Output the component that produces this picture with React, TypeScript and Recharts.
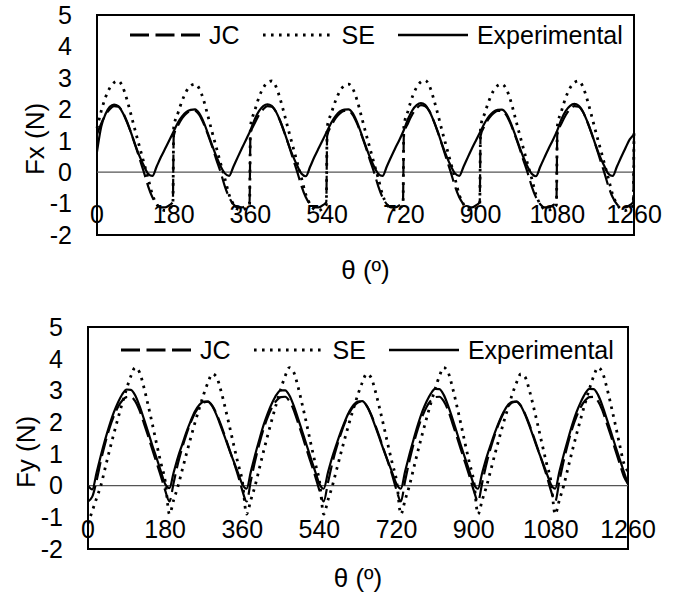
import React from 'react';
import { LineChart, Line, XAxis, YAxis, ReferenceLine, ReferenceArea, Legend } from 'recharts';

const FONT = '"Liberation Sans", Arial, Helvetica, sans-serif';

const thetaTicks = [0, 180, 360, 540, 720, 900, 1080, 1260];
const forceTicks = [-2, -1, 0, 1, 2, 3, 4, 5];
const seriesNames = ['JC', 'SE', 'Experimental'];

// ---------- Fx (top chart) ----------
const fxTheta = [
  0, 10, 20, 30, 40, 50, 60, 70, 80, 90, 100, 110, 120, 130, 140, 150, 160, 170, 178,
  180, 190, 200, 210, 220, 230, 240, 250, 260, 270, 280, 290, 300, 310, 320, 330, 340, 350, 358,
  360, 370, 380, 390, 400, 410, 420, 430, 440, 450, 460, 470, 480, 490, 500, 510, 520, 530, 538,
  540, 550, 560, 570, 580, 590, 600, 610, 620, 630, 640, 650, 660, 670, 680, 690, 700, 710, 718,
  720, 730, 740, 750, 760, 770, 780, 790, 800, 810, 820, 830, 840, 850, 860, 870, 880, 890, 898,
  900, 910, 920, 930, 940, 950, 960, 970, 980, 990, 1000, 1010, 1020, 1030, 1040, 1050, 1060, 1070, 1078,
  1080, 1090, 1100, 1110, 1120, 1130, 1140, 1150, 1160, 1170, 1180, 1190, 1200, 1210, 1220, 1230, 1240, 1250, 1258,
  1260,
];
const fxJC = [
  1.2, 1.55, 1.82, 2.0, 2.1, 2.08, 1.92, 1.62, 1.25, 0.85, 0.42, 0.0, -0.45, -0.8, -1.02, -1.12, -1.12, -1.05, -0.95,
  1.15, 1.48, 1.72, 1.87, 1.95, 1.95, 1.82, 1.55, 1.2, 0.82, 0.4, 0.0, -0.45, -0.8, -1.02, -1.12, -1.12, -1.05, -0.95,
  1.2, 1.55, 1.82, 2.0, 2.1, 2.08, 1.92, 1.62, 1.25, 0.85, 0.42, 0.0, -0.45, -0.8, -1.02, -1.12, -1.12, -1.05, -0.95,
  1.15, 1.48, 1.72, 1.87, 1.95, 1.95, 1.82, 1.55, 1.2, 0.82, 0.4, 0.0, -0.45, -0.8, -1.02, -1.12, -1.12, -1.05, -0.95,
  1.2, 1.56, 1.84, 2.03, 2.13, 2.1, 1.94, 1.63, 1.26, 0.85, 0.42, 0.0, -0.45, -0.8, -1.02, -1.12, -1.12, -1.05, -0.95,
  1.15, 1.48, 1.72, 1.87, 1.95, 1.95, 1.82, 1.55, 1.2, 0.82, 0.4, 0.0, -0.45, -0.8, -1.02, -1.12, -1.12, -1.05, -0.95,
  1.2, 1.55, 1.82, 2.0, 2.1, 2.08, 1.92, 1.62, 1.25, 0.85, 0.42, 0.0, -0.45, -0.8, -1.02, -1.12, -1.12, -1.05, -0.95,
  1.2,
];
const fxSE = [
  1.4, 1.95, 2.38, 2.68, 2.85, 2.9, 2.72, 2.32, 1.82, 1.3, 0.8, 0.3, -0.2, -0.72, -1.02, -1.18, -1.22, -1.15, -1.05,
  1.42, 1.88, 2.28, 2.58, 2.75, 2.8, 2.66, 2.3, 1.8, 1.28, 0.78, 0.28, -0.2, -0.72, -1.02, -1.18, -1.2, -1.14, -1.04,
  1.45, 1.95, 2.38, 2.68, 2.85, 2.9, 2.72, 2.32, 1.82, 1.3, 0.8, 0.3, -0.2, -0.72, -1.02, -1.18, -1.22, -1.15, -1.05,
  1.42, 1.88, 2.28, 2.58, 2.75, 2.8, 2.66, 2.3, 1.8, 1.28, 0.78, 0.28, -0.2, -0.72, -1.02, -1.18, -1.2, -1.14, -1.04,
  1.45, 1.96, 2.4, 2.7, 2.87, 2.92, 2.74, 2.33, 1.83, 1.3, 0.8, 0.3, -0.2, -0.72, -1.02, -1.18, -1.22, -1.15, -1.05,
  1.42, 1.88, 2.28, 2.58, 2.75, 2.8, 2.66, 2.3, 1.8, 1.28, 0.78, 0.28, -0.2, -0.72, -1.02, -1.18, -1.2, -1.14, -1.04,
  1.45, 1.95, 2.38, 2.68, 2.85, 2.9, 2.72, 2.32, 1.82, 1.3, 0.8, 0.3, -0.2, -0.72, -1.02, -1.18, -1.22, -1.15, -1.05,
  1.4,
];
const fxExp = [
  0.65, 1.45, 1.85, 2.08, 2.15, 2.1, 1.9, 1.6, 1.25, 0.85, 0.5, 0.2, -0.05, -0.12, 0.18, 0.48, 0.75, 1.02, null,
  1.3, 1.58, 1.78, 1.92, 1.98, 2.0, 1.87, 1.6, 1.24, 0.86, 0.5, 0.19, -0.04, -0.12, 0.17, 0.47, 0.76, 1.04, null,
  1.33, 1.68, 1.94, 2.1, 2.16, 2.11, 1.92, 1.62, 1.26, 0.86, 0.5, 0.2, -0.05, -0.13, 0.17, 0.48, 0.76, 1.03, null,
  1.31, 1.58, 1.79, 1.93, 1.99, 2.0, 1.88, 1.6, 1.23, 0.85, 0.49, 0.18, -0.05, -0.12, 0.18, 0.48, 0.77, 1.04, null,
  1.34, 1.7, 1.97, 2.13, 2.2, 2.14, 1.94, 1.63, 1.27, 0.87, 0.51, 0.2, -0.04, -0.12, 0.17, 0.47, 0.76, 1.03, null,
  1.3, 1.57, 1.78, 1.92, 1.98, 1.99, 1.87, 1.59, 1.23, 0.85, 0.49, 0.18, -0.05, -0.13, 0.17, 0.47, 0.76, 1.03, null,
  1.33, 1.69, 1.95, 2.11, 2.17, 2.12, 1.93, 1.62, 1.26, 0.86, 0.5, 0.2, -0.05, -0.12, 0.18, 0.48, 0.77, 1.04, null,
  1.2,
];

// ---------- Fy (bottom chart) ----------
const fyTheta = [
  0, 10, 20, 30, 40, 50, 60, 70, 80, 90, 100, 110, 120, 130, 140, 150, 160, 170,
  180, 190, 200, 210, 220, 230, 240, 250, 260, 270, 280, 290, 300, 310, 320, 330, 340, 350,
  360, 370, 380, 390, 400, 410, 420, 430, 440, 450, 460, 470, 480, 490, 500, 510, 520, 530,
  540, 550, 560, 570, 580, 590, 600, 610, 620, 630, 640, 650, 660, 670, 680, 690, 700, 710,
  720, 730, 740, 750, 760, 770, 780, 790, 800, 810, 820, 830, 840, 850, 860, 870, 880, 890,
  900, 910, 920, 930, 940, 950, 960, 970, 980, 990, 1000, 1010, 1020, 1030, 1040, 1050, 1060, 1070,
  1080, 1090, 1100, 1110, 1120, 1130, 1140, 1150, 1160, 1170, 1180, 1190, 1200, 1210, 1220, 1230, 1240, 1250,
  1260,
];
const fyJC = [
  -0.5, -0.35, 0.15, 0.78, 1.33, 1.8, 2.18, 2.48, 2.68, 2.79, 2.8, 2.66, 2.38, 1.98, 1.57, 1.14, 0.72, 0.3,
  -0.15, -0.5, 0.1, 0.7, 1.2, 1.63, 2.0, 2.3, 2.5, 2.62, 2.65, 2.52, 2.26, 1.92, 1.54, 1.14, 0.74, 0.32,
  -0.15, -0.5, 0.15, 0.78, 1.33, 1.8, 2.18, 2.48, 2.68, 2.79, 2.8, 2.66, 2.38, 1.98, 1.57, 1.14, 0.72, 0.3,
  -0.15, -0.5, 0.1, 0.7, 1.2, 1.63, 2.0, 2.3, 2.5, 2.62, 2.65, 2.52, 2.26, 1.92, 1.54, 1.14, 0.74, 0.32,
  -0.15, -0.5, 0.15, 0.78, 1.33, 1.8, 2.18, 2.48, 2.68, 2.79, 2.8, 2.66, 2.38, 1.98, 1.57, 1.14, 0.72, 0.3,
  -0.15, -0.5, 0.1, 0.7, 1.2, 1.63, 2.0, 2.3, 2.5, 2.62, 2.65, 2.52, 2.26, 1.92, 1.54, 1.14, 0.74, 0.32,
  -0.15, -0.5, 0.15, 0.78, 1.33, 1.8, 2.18, 2.48, 2.68, 2.79, 2.8, 2.66, 2.38, 1.98, 1.57, 1.14, 0.72, 0.3,
  0.05,
];
const fySE = [
  -1.2, -0.8, -0.4, 0.0, 0.55, 1.1, 1.62, 2.12, 2.6, 3.05, 3.45, 3.72, 3.58, 3.12, 2.55, 1.95, 1.32, 0.72,
  0.15, -0.9, -0.45, -0.02, 0.5, 1.02, 1.52, 2.0, 2.45, 2.88, 3.25, 3.52, 3.42, 3.0, 2.46, 1.88, 1.28, 0.7,
  0.15, -0.9, -0.45, 0.0, 0.55, 1.1, 1.62, 2.12, 2.6, 3.05, 3.45, 3.72, 3.58, 3.12, 2.55, 1.95, 1.32, 0.72,
  0.15, -0.9, -0.45, -0.02, 0.5, 1.02, 1.52, 2.0, 2.45, 2.88, 3.25, 3.52, 3.42, 3.0, 2.46, 1.88, 1.28, 0.7,
  0.15, -0.9, -0.45, 0.0, 0.55, 1.1, 1.62, 2.12, 2.6, 3.05, 3.45, 3.72, 3.58, 3.12, 2.55, 1.95, 1.32, 0.72,
  0.15, -0.9, -0.45, -0.02, 0.5, 1.02, 1.52, 2.0, 2.45, 2.88, 3.25, 3.52, 3.42, 3.0, 2.46, 1.88, 1.28, 0.7,
  0.15, -0.9, -0.45, 0.0, 0.55, 1.1, 1.62, 2.12, 2.6, 3.05, 3.45, 3.72, 3.58, 3.12, 2.55, 1.95, 1.32, 0.72,
  0.45,
];
const fyExp = [
  0.0, -0.12, 0.4, 0.95, 1.45, 1.9, 2.3, 2.62, 2.88, 3.03, 3.02, 2.85, 2.52, 2.12, 1.7, 1.27, 0.87, 0.45,
  0.05, -0.08, 0.42, 0.9, 1.3, 1.7, 2.05, 2.35, 2.55, 2.65, 2.65, 2.5, 2.22, 1.87, 1.5, 1.12, 0.76, 0.4,
  0.04, -0.1, 0.44, 0.97, 1.46, 1.92, 2.3, 2.62, 2.87, 3.0, 3.0, 2.84, 2.52, 2.12, 1.7, 1.28, 0.86, 0.45,
  0.05, -0.1, 0.42, 0.9, 1.31, 1.7, 2.05, 2.34, 2.55, 2.65, 2.66, 2.52, 2.24, 1.88, 1.5, 1.12, 0.76, 0.4,
  0.04, -0.1, 0.45, 0.98, 1.47, 1.93, 2.33, 2.65, 2.9, 3.05, 3.04, 2.86, 2.53, 2.13, 1.7, 1.27, 0.86, 0.45,
  0.05, -0.1, 0.41, 0.89, 1.3, 1.69, 2.04, 2.33, 2.54, 2.64, 2.65, 2.51, 2.23, 1.88, 1.5, 1.12, 0.76, 0.4,
  0.04, -0.1, 0.44, 0.97, 1.46, 1.92, 2.32, 2.64, 2.9, 3.05, 3.04, 2.86, 2.53, 2.12, 1.7, 1.27, 0.86, 0.45,
  0.05,
];

const fxData = fxTheta.map((t, i) => ({ theta: t, jc: fxJC[i], se: fxSE[i], exp: fxExp[i] }));
const fyData = fyTheta.map((t, i) => ({ theta: t, jc: fyJC[i], se: fySE[i], exp: fyExp[i] }));

const DASH = '18 6';
const DOT = '2.6 5.4';

const makeXTick = (labelY: number) => (props: any) => {
  const { x, payload } = props;
  return (
    <text x={x} y={labelY} textAnchor="middle" dominantBaseline="central"
      fontFamily={FONT} fontSize={25} fill="#000">
      {payload.value}
    </text>
  );
};

const YTitle = (props: any) => {
  const { viewBox, text, dx, dy } = props;
  const cx = viewBox.x + viewBox.width - dx;
  const cy = viewBox.y + viewBox.height / 2 + dy;
  return (
    <text x={cx} y={cy} transform={`rotate(-90 ${cx} ${cy})`} textAnchor="middle"
      dominantBaseline="central" fontFamily={FONT} fontSize={26} fill="#000">
      {text}
    </text>
  );
};

const XTitle = (props: any) => {
  const { viewBox, dy } = props;
  const cx = viewBox.x + viewBox.width / 2;
  const cy = viewBox.y + dy;
  return (
    <text x={cx} y={cy} textAnchor="middle" dominantBaseline="central"
      fontFamily={FONT} fontSize={26} fill="#000">
      θ (º)
    </text>
  );
};

const makeLegend = (padLeft: number) => () => {
  const dashes = ['19 6.5', DOT, undefined];
  const widths = [3 as number, 3, 2.4];
  return (
    <div style={{ display: 'flex', alignItems: 'center', paddingLeft: padLeft, fontFamily: FONT,
      fontSize: 25, lineHeight: '30px', color: '#000', whiteSpace: 'nowrap' }}>
      {seriesNames.map((n, i) => (
        <div key={n} style={{ display: 'flex', alignItems: 'center', marginRight: 23 }}>
          <svg width={70} height={10} style={{ display: 'block' }}>
            <line x1={0} y1={5} x2={70} y2={5} stroke="#000" strokeWidth={widths[i]}
              strokeDasharray={dashes[i]} />
          </svg>
          <span style={{ marginLeft: 9 }}>{n}</span>
        </div>
      ))}
    </div>
  );
};

interface PanelProps {
  data: any[];
  height: number;
  top: number;
  left: number;
  right: number;
  plotH: number;
  yTitle: string;
  tickY: number;
  xTitleDy: number;
  legendTop: number;
}

const Panel = ({ data, height, top, left, right, plotH, yTitle, tickY, xTitleDy, legendTop }: PanelProps) => {
  const xAxisH = height - top - plotH;
  return (
    <LineChart width={682} height={height} data={data}
      margin={{ top, right, bottom: 0, left: 0 }}>
      <XAxis dataKey="theta" type="number" domain={[0, 1260]} ticks={thetaTicks}
        axisLine={false} tickLine={false} height={xAxisH} interval={0}
        tick={makeXTick(tickY)}
        label={<XTitle dy={xTitleDy} />} />
      <YAxis type="number" domain={[-2, 5]} ticks={forceTicks} width={left}
        axisLine={false} tickLine={false} tickSize={0} tickMargin={25} interval={0}
        tick={{ fill: '#000', fontSize: 25, fontFamily: FONT }}
        label={<YTitle text={yTitle} dx={62} dy={14} />} />
      <ReferenceLine y={0} stroke="#555" strokeWidth={1.3} />
      <Legend verticalAlign="middle" align="center" layout="horizontal"
        wrapperStyle={{ top: legendTop, left: 0, width: 682 }}
        content={makeLegend(left + 33)} />
      <Line type="monotone" dataKey="jc" name="JC" stroke="#000" strokeWidth={2.2}
        strokeDasharray={DASH} dot={false} activeDot={false} isAnimationActive={false} />
      <Line type="monotone" dataKey="se" name="SE" stroke="#000" strokeWidth={2.8}
        strokeDasharray={DOT} dot={false} activeDot={false} isAnimationActive={false} />
      <Line type="monotone" dataKey="exp" name="Experimental" stroke="#000" strokeWidth={2.2}
        connectNulls dot={false} activeDot={false} isAnimationActive={false} />
      <ReferenceArea x1={0} x2={1260} y1={-2} y2={5} fill="none" fillOpacity={0}
        stroke="#000" strokeWidth={2} />
    </LineChart>
  );
};

export default function App() {
  return (
    <div style={{ position: 'absolute', left: 0, top: 0, width: 682, height: 595, background: '#fff' }}>
      <Panel data={fxData} height={300} top={15} left={97} right={48} plotH={220}
        yTitle="Fx (N)" tickY={214} xTitleDy={35} legendTop={20} />
      <Panel data={fyData} height={295} top={27} left={88} right={54} plotH={222}
        yTitle="Fy (N)" tickY={229} xTitleDy={29} legendTop={35} />
    </div>
  );
}
